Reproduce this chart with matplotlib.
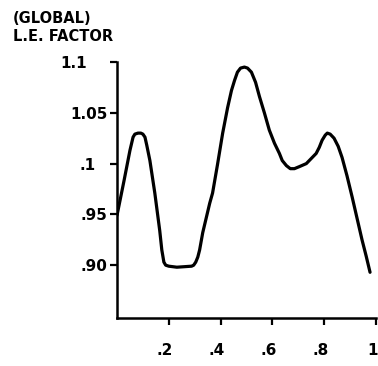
import matplotlib
matplotlib.use("Agg")
import matplotlib.pyplot as plt
from matplotlib.transforms import ScaledTranslation

# Curve (x = fraction, y = L.E. factor)
x_vals = [0.000, 0.027, 0.050, 0.062, 0.069, 0.081, 0.092, 0.100, 0.108, 0.115,
          0.127, 0.146, 0.165, 0.173, 0.181, 0.188, 0.200, 0.231, 0.288, 0.296,
          0.304, 0.312, 0.319, 0.331, 0.358, 0.369, 0.388, 0.408, 0.427, 0.442,
          0.454, 0.465, 0.477, 0.492, 0.504, 0.519, 0.535, 0.550, 0.569, 0.588,
          0.608, 0.627, 0.638, 0.654, 0.669, 0.685, 0.704, 0.731, 0.769, 0.781,
          0.792, 0.804, 0.812, 0.823, 0.838, 0.854, 0.869, 0.888, 0.908, 0.927,
          0.946, 0.962, 0.977]
y_vals = [0.949, 0.983, 1.013, 1.026, 1.029, 1.030, 1.030, 1.029, 1.026, 1.018,
          1.003, 0.971, 0.934, 0.915, 0.903, 0.900, 0.899, 0.898, 0.899, 0.900,
          0.903, 0.908, 0.915, 0.932, 0.961, 0.971, 0.999, 1.030, 1.055, 1.072,
          1.082, 1.090, 1.094, 1.095, 1.094, 1.090, 1.080, 1.066, 1.050, 1.033,
          1.020, 1.010, 1.003, 0.998, 0.995, 0.995, 0.997, 1.000, 1.010, 1.016,
          1.023, 1.028, 1.030, 1.029, 1.025, 1.017, 1.006, 0.988, 0.967, 0.946,
          0.925, 0.909, 0.893]

x_ticks = [0.2, 0.4, 0.6, 0.8, 1.0]
x_tick_labels = [".2", ".4", ".6", ".8", "1"]
y_ticks = [0.90, 0.95, 1.00, 1.05, 1.10]
y_tick_labels = [".90", ".95", ".1", "1.05", "1.1"]
title_lines = ["(GLOBAL)", "L.E. FACTOR"]

fig = plt.figure(figsize=(3.78, 3.66), dpi=100)
ax = fig.add_axes([117/378, 1 - 318/366, (376 - 117)/378, (318 - 62)/366])

ax.plot(x_vals, y_vals, color="black", lw=2.3, solid_capstyle="round",
        solid_joinstyle="round")

ax.set_xlim(0, 1.0)
ax.set_ylim(0.848, 1.10)

for s in ["top", "right"]:
    ax.spines[s].set_visible(False)
for s in ["left", "bottom"]:
    ax.spines[s].set_linewidth(1.8)

ax.set_xticks(x_ticks)
ax.set_xticklabels(x_tick_labels, fontsize=11, fontweight="bold")
ax.set_yticks(y_ticks)
ax.set_yticklabels(y_tick_labels, fontsize=11, fontweight="bold")
ax.tick_params(axis="x", direction="out", length=5, width=1.6, pad=13)
ax.tick_params(axis="y", direction="out", length=5, width=1.6, pad=2)

# nudge labels to match the hand-lettered placement
for lbl in ax.get_xticklabels()[:-1]:
    lbl.set_transform(lbl.get_transform() + ScaledTranslation(-4/100, 0, fig.dpi_scale_trans))
last = ax.get_xticklabels()[-1]
last.set_horizontalalignment("right")
last.set_transform(last.get_transform() + ScaledTranslation(2/100, 0, fig.dpi_scale_trans))
ylbls = ax.get_yticklabels()
ylbls[2].set_transform(ylbls[2].get_transform() + ScaledTranslation(-12/100, 0, fig.dpi_scale_trans))
ylbls[4].set_transform(ylbls[4].get_transform() + ScaledTranslation(-20/100, 0, fig.dpi_scale_trans))

fig.text(13/378, 1 - 11/366, title_lines[0], fontsize=10.5, fontweight="bold",
         ha="left", va="top")
fig.text(13/378, 1 - 29/366, title_lines[1], fontsize=10.5, fontweight="bold",
         ha="left", va="top")

fig.savefig("out.png", dpi=100, facecolor="white")
